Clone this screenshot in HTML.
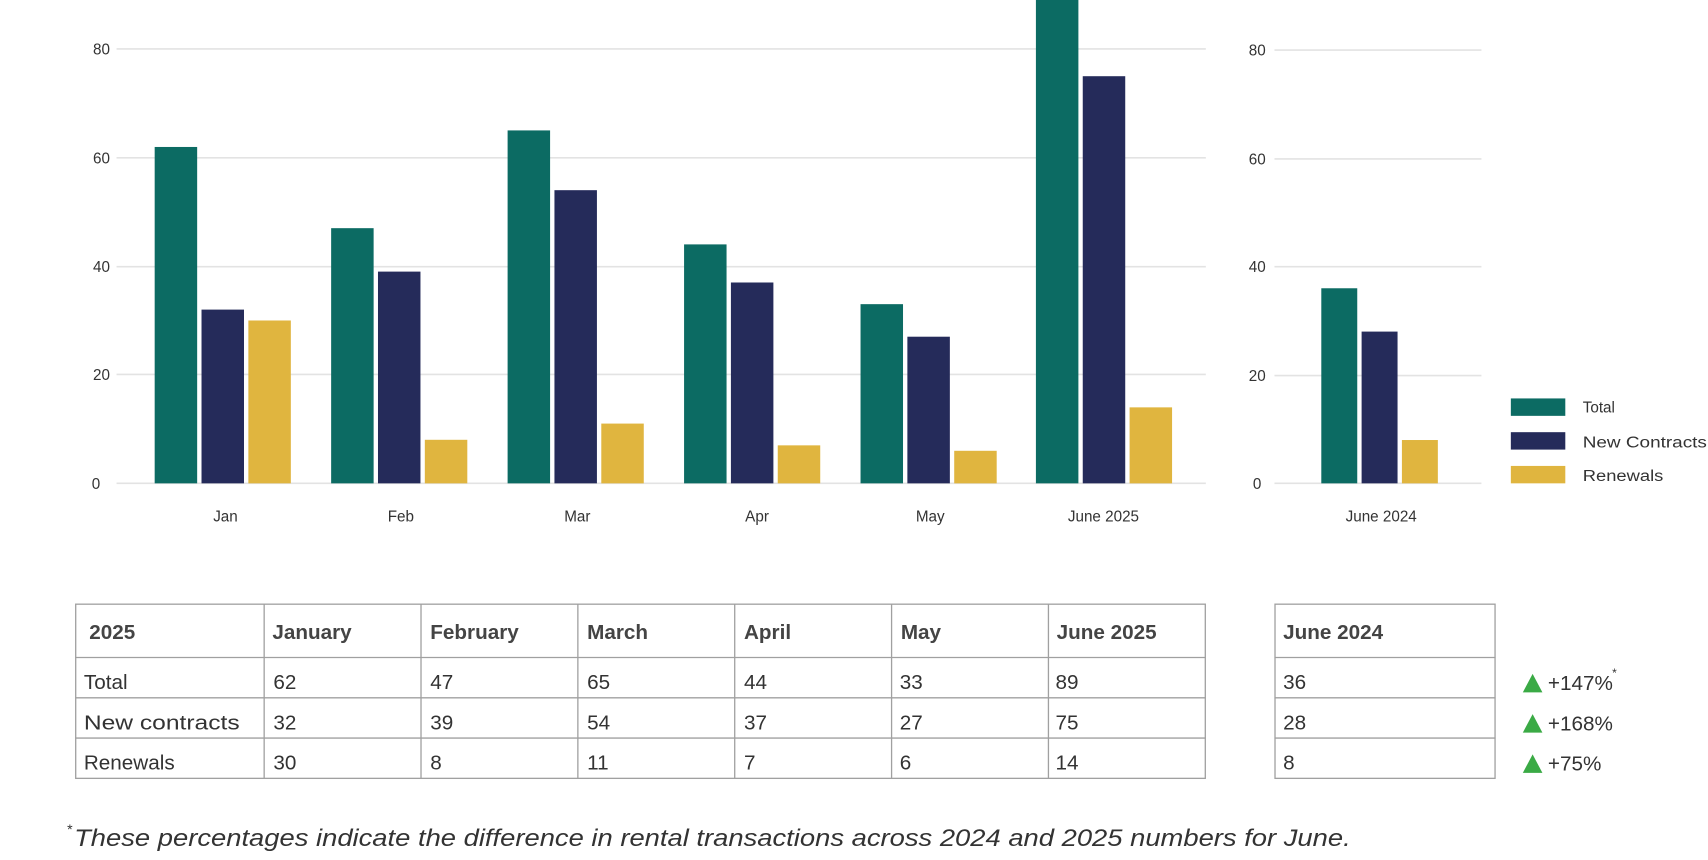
<!DOCTYPE html>
<html><head><meta charset="utf-8"><style>
html,body{margin:0;padding:0;background:#fff;}
svg{display:block;}
text{font-family:"Liberation Sans",sans-serif;fill:#333;}
</style></head><body>
<svg width="1708" height="860" viewBox="0 0 1568 790" preserveAspectRatio="none" xmlns="http://www.w3.org/2000/svg">
<g stroke="#e3e3e3" stroke-width="1.5">
<line x1="107" x2="1107" y1="45" y2="45"/><line x1="107" x2="1107" y1="145" y2="145"/><line x1="107" x2="1107" y1="245" y2="245"/><line x1="107" x2="1107" y1="344" y2="344"/><line x1="107" x2="1107" y1="444" y2="444"/>
<line x1="1170" x2="1360" y1="46" y2="46"/><line x1="1170" x2="1360" y1="146" y2="146"/><line x1="1170" x2="1360" y1="245" y2="245"/><line x1="1170" x2="1360" y1="345" y2="345"/><line x1="1170" x2="1360" y1="444" y2="444"/>
</g>
<g font-size="14" text-anchor="end">
<text x="101" y="50">80</text><text x="101" y="150">60</text><text x="101" y="250">40</text><text x="101" y="349">20</text><text x="92" y="449">0</text>
<text x="1162" y="51">80</text><text x="1162" y="151">60</text><text x="1162" y="250">40</text><text x="1162" y="350">20</text><text x="1158" y="449">0</text>
</g>
<g>
<rect x="142" y="135" width="39" height="309" fill="#0c6b63"/><rect x="185" y="284.4" width="39" height="159.6" fill="#252b5a"/><rect x="228" y="294.4" width="39" height="149.6" fill="#e0b53f"/>
<rect x="304" y="209.6" width="39" height="234.4" fill="#0c6b63"/><rect x="347" y="249.5" width="39" height="194.5" fill="#252b5a"/><rect x="390" y="404" width="39" height="40" fill="#e0b53f"/>
<rect x="466" y="119.8" width="39" height="324.2" fill="#0c6b63"/><rect x="509" y="174.7" width="39" height="269.3" fill="#252b5a"/><rect x="552" y="389.1" width="39" height="54.9" fill="#e0b53f"/>
<rect x="628" y="224.5" width="39" height="219.5" fill="#0c6b63"/><rect x="671" y="259.5" width="39" height="184.5" fill="#252b5a"/><rect x="714" y="409.1" width="39" height="34.9" fill="#e0b53f"/>
<rect x="790" y="279.4" width="39" height="164.6" fill="#0c6b63"/><rect x="833" y="309.3" width="39" height="134.7" fill="#252b5a"/><rect x="876" y="414.1" width="39" height="29.9" fill="#e0b53f"/>
<rect x="951" y="0" width="39" height="444" fill="#0c6b63"/><rect x="994" y="70" width="39" height="374" fill="#252b5a"/><rect x="1037" y="374.2" width="39" height="69.8" fill="#e0b53f"/>
<rect x="1213" y="264.8" width="33" height="179.2" fill="#0c6b63"/><rect x="1250" y="304.6" width="33" height="139.4" fill="#252b5a"/><rect x="1287" y="404.2" width="33" height="39.8" fill="#e0b53f"/>
</g>
<g font-size="14" text-anchor="middle">
<text x="207" y="479">Jan</text><text x="368" y="479">Feb</text><text x="530" y="479">Mar</text><text x="695" y="479">Apr</text><text x="854" y="479">May</text><text x="1013" y="479">June 2025</text><text x="1268" y="479">June 2024</text>
</g>
<rect x="1387" y="366" width="50" height="16" fill="#0c6b63"/><rect x="1387" y="397" width="50" height="16" fill="#252b5a"/><rect x="1387" y="428" width="50" height="16" fill="#e0b53f"/>
<g font-size="14"><text x="1453" y="379">Total</text><text x="1453" y="411" textLength="114" lengthAdjust="spacingAndGlyphs">New Contracts</text><text x="1453" y="442" textLength="74" lengthAdjust="spacingAndGlyphs">Renewals</text></g>
<g stroke="#a0a0a0" stroke-width="1.2" fill="none">
<rect x="69.5" y="555" width="1037" height="160"/>
<line x1="69" x2="1107" y1="604" y2="604"/><line x1="69" x2="1107" y1="641" y2="641"/><line x1="69" x2="1107" y1="678" y2="678"/>
<line x1="242.5" x2="242.5" y1="555" y2="715"/><line x1="386.5" x2="386.5" y1="555" y2="715"/><line x1="530.5" x2="530.5" y1="555" y2="715"/><line x1="674.5" x2="674.5" y1="555" y2="715"/><line x1="818.5" x2="818.5" y1="555" y2="715"/><line x1="962.5" x2="962.5" y1="555" y2="715"/>
<rect x="1170.5" y="555" width="202" height="160"/>
<line x1="1170" x2="1373" y1="604" y2="604"/><line x1="1170" x2="1373" y1="641" y2="641"/><line x1="1170" x2="1373" y1="678" y2="678"/>
</g>
<g font-size="19" font-weight="bold">
<text x="82" y="587" style="fill:#444">2025</text><text x="250" y="587" style="fill:#444">January</text><text x="395" y="587" style="fill:#444">February</text><text x="539" y="587" style="fill:#444">March</text><text x="683" y="587" style="fill:#444">April</text><text x="827" y="587" style="fill:#444">May</text><text x="970" y="587" style="fill:#444">June 2025</text><text x="1178" y="587" style="fill:#444">June 2024</text>
</g>
<g font-size="19">
<text x="77" y="633">Total</text><text x="251" y="633">62</text><text x="395" y="633">47</text><text x="539" y="633">65</text><text x="683" y="633">44</text><text x="826" y="633">33</text><text x="969" y="633">89</text><text x="1178" y="633">36</text>
<text x="77" y="670" textLength="143" lengthAdjust="spacingAndGlyphs">New contracts</text><text x="251" y="670">32</text><text x="395" y="670">39</text><text x="539" y="670">54</text><text x="683" y="670">37</text><text x="826" y="670">27</text><text x="969" y="670">75</text><text x="1178" y="670">28</text>
<text x="77" y="707">Renewals</text><text x="251" y="707">30</text><text x="395" y="707">8</text><text x="539" y="707">11</text><text x="683" y="707">7</text><text x="826" y="707">6</text><text x="969" y="707">14</text><text x="1178" y="707">8</text>
<text x="1421" y="634">+147%</text><text x="1480" y="622" font-size="11">*</text>
<text x="1421" y="671">+168%</text><text x="1421" y="708">+75%</text>
</g>
<g fill="#3aaa45"><polygon points="1398,636 1407,619 1416,636"/><polygon points="1398,673 1407,656 1416,673"/><polygon points="1398,710 1407,693 1416,710"/></g>
<text x="61" y="766" font-size="13" font-style="italic">*</text>
<text x="68" y="777" font-size="22" font-style="italic" textLength="1172" lengthAdjust="spacingAndGlyphs">These percentages indicate the difference in rental transactions across 2024 and 2025 numbers for June.</text>
</svg>
</body></html>
